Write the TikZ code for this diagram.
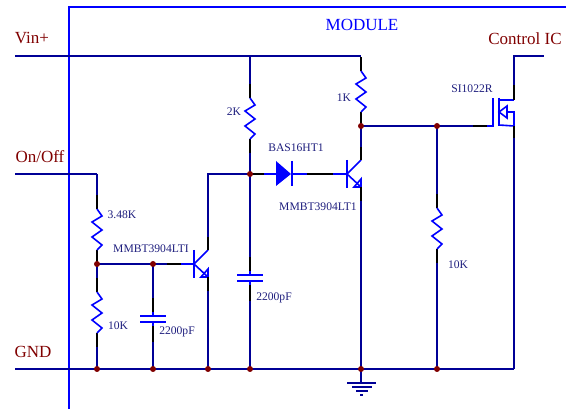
\documentclass[tikz,border=0pt]{standalone}
\usepackage{fontspec}
\setmainfont{Liberation Serif}
\definecolor{wirecol}{RGB}{0,0,150}
\definecolor{partcol}{RGB}{0,0,255}
\definecolor{dotcol}{RGB}{128,0,0}
\definecolor{textcol}{RGB}{30,30,125}
\tikzset{
  wire/.style={wirecol, line width=1.4pt},
  rail/.style={wirecol, line width=1.9pt},
  part/.style={partcol, line width=1.6pt},
  lead/.style={black, line width=1.4pt},
  dot/.style={circle, fill=dotcol, inner sep=0pt, minimum size=6pt},
  value/.style={textcol, inner sep=0pt, font=\fontsize{11.6}{13}\selectfont},
  pinname/.style={dotcol, inner sep=0pt, font=\fontsize{17}{20}\selectfont},
  resv/.pic={
    \draw [lead] (0,0) -- (0,-14) coordinate (-top);
    \draw [lead] (0,41) -- (0,55) coordinate (-bot);
    \draw [part, line join=miter] (0,0) -- (5,7) -- (-5,13) -- (5,21) -- (-5,28) -- (5,36) -- (0,41);
  },
  capv/.pic={
    \draw [lead] (0,0) -- (0,-18) coordinate (-top);
    \draw [lead] (0,6) -- (0,26) coordinate (-bot);
    \draw [part] (-13,0) -- (13,0);
    \draw [part] (-13,6) -- (13,6);
    \draw [part] (0,-4) -- (0,0);
    \draw [part] (0,6) -- (0,10);
  }
}
\begin{document}
\begin{tikzpicture}[x=1pt,y=-1pt]
\useasboundingbox (0,0) rectangle (566,409);
% module frame
\coordinate (modtl) at (69,7);
\coordinate (modtr) at (566,7);
\coordinate (modbl) at (69,409);
\draw [partcol, line width=1.2pt] (modtr) -- (modtl) -- (modbl);
% junctions
\foreach \name/\xx/\yy in {ja/97/264,jb/153/264,jc/250/174,jd/361/126,je/437/126,
    gb/97/369,gc/153/369,gd/208/369,ge/250/369,gf/361/369,gg/437/369}
  \coordinate (\name) at (\xx,\yy);
%
\coordinate (vin) at (15,56);
\coordinate (vinb) at (250,56);
\coordinate (vinc) at (361,56);
\coordinate (onoff) at (15,174);
\coordinate (onoffb) at (97,174);
\coordinate (gnd) at (15,369);
\coordinate (gndend) at (514,369);
% rails
\draw [rail] (vin) -- (vinc);
\draw [rail] (gnd) -- (gndend);
\draw [rail] (onoff) -- (onoffb);
% divider
\pic (ra) at (97,209) {resv};
\pic (rb) at (97,292) {resv};
\draw [wire] (onoffb) -- (ra-top);
\draw [wire] (ra-bot) -- (ja) -- (rb-top);
\draw [wire] (rb-bot) -- (gb);
\draw [rail] (ja) -- (167,264) coordinate (qaw);
\draw [lead] (qaw) -- (181,264) coordinate (qab);
% first capacitor
\pic (ca) at (153,316) {capv};
\draw [wire] (jb) -- (ca-top);
\draw [wire] (ca-bot) -- (gc);
% first transistor
\coordinate (qac) at (208,250);
\coordinate (qae) at (208,277);
\coordinate (qat) at (194,264);
\draw [part] (qab) -- (qat);
\draw [part] (194,250) -- (194,278);
\draw [part] (qat) -- (qac);
\draw [part] (qat) -- (qae);
\draw [part] (201,277) -- (208,277) -- (208,269) -- cycle;
\draw [lead] (qac) -- (208,237) coordinate (qacw);
\draw [wire] (qacw) |- (jc);
\draw [lead] (qae) -- (208,291) coordinate (qaew);
\draw [wire] (qaew) -- (gd);
% middle branch
\pic (rc) at (250,98) {resv};
\pic (cb) at (250,275) {capv};
\draw [wire] (vinb) -- (rc-top);
\draw [wire] (rc-bot) -- (jc) -- (cb-top);
\draw [wire] (cb-bot) -- (ge);
% diode
\coordinate (dia) at (276,174);
\coordinate (dik) at (292,174);
\draw [lead] (jc) -- (264,174) coordinate (diw);
\draw [part] (diw) -- (dia);
\fill [partcol] (276,161) -- (291,174) -- (276,186) -- cycle;
\draw [part, line width=2pt] (292,161) -- (292,186);
\draw [part] (dik) -- (307,174);
\draw [lead] (307,174) -- (333,174) coordinate (qbb);
% second transistor
\coordinate (qbc) at (361,160);
\coordinate (qbe) at (361,187);
\coordinate (qbt) at (347,174);
\draw [part] (qbb) -- (qbt);
\draw [part] (347,160) -- (347,188);
\draw [part] (qbt) -- (qbc);
\draw [part] (qbt) -- (qbe);
\draw [part] (354,187) -- (361,187) -- (361,179) -- cycle;
\draw [lead] (qbc) -- (361,147) coordinate (qbcw);
\draw [wire] (qbcw) -- (jd);
\draw [lead] (qbe) -- (361,201) coordinate (qbew);
\draw [wire] (qbew) -- (gf);
\pic (rd) at (361,71) {resv};
% gate drive
\draw [rail] (jd) -- (473,126) coordinate (mga);
\draw [lead] (mga) -- (487,126) coordinate (mgb);
\pic (re) at (437,208) {resv};
\draw [wire] (je) -- (re-top);
\draw [wire] (re-bot) -- (gg);
% fet
\coordinate (mgt) at (493,126);
\coordinate (mdi) at (514,100);
\coordinate (msi) at (514,126);
\coordinate (ctl) at (544,56);
\draw [part] (mgb) -- (mgt) -- (493,98);
\draw [part] (499,98) -- (499,126);
\draw [part] (499,100) -- (mdi);
\draw [part] (499,125) -- (msi);
\draw [part] (507,112) -- (514,112) -- (msi);
\draw [part] (499,112) -- (507,106) -- (507,118) -- cycle;
\draw [lead] (mdi) -- (514,85) coordinate (mdw);
\draw [wire] (mdw) -- (514,56) -- (ctl);
\draw [lead] (msi) -- (514,138) coordinate (msw);
\draw [wire] (msw) -- (gndend);
% ground
\draw [wire] (gf) -- (361,383) coordinate (earth);
\draw [rail] (347,383) -- (376,383);
\draw [rail] (352,387) -- (372,387);
\draw [rail] (356,391) -- (368,391);
\draw [rail] (360,395) -- (363,395);
% dots on top
\foreach \name in {ja,jb,jc,jd,je,gb,gc,gd,ge,gf,gg}
  \node [dot] at (\name) {};
%
\node [value, font=\fontsize{17}{20}\selectfont, partcol] (module) at (362,25) {MODULE};
\node [pinname] (lvin) at (32,38) {Vin+};
\node [pinname] (lonoff) at (40,157) {On/Off};
\node [pinname] (lgnd) at (33,352) {GND};
\node [pinname] (lctl) at (525,39) {Control IC};
\node [value] (lra) at (122,215) {3.48K};
\node [value] (lrb) at (118,326) {10K};
\node [value] (lqa) at (151,249) {MMBT3904LTI};
\node [value] (lca) at (177,332) {2200pF};
\node [value] (lrc) at (234,112) {2K};
\node [value] (ldi) at (296,148) {BAS16HT1};
\node [value] (lqb) at (318,207) {MMBT3904LT1};
\node [value] (lcb) at (274,298) {2200pF};
\node [value] (lrd) at (344,98) {1K};
\node [value] (lfet) at (472,89) {SI1022R};
\node [value] (lre) at (458,265) {10K};
%
\end{tikzpicture}
\end{document}
